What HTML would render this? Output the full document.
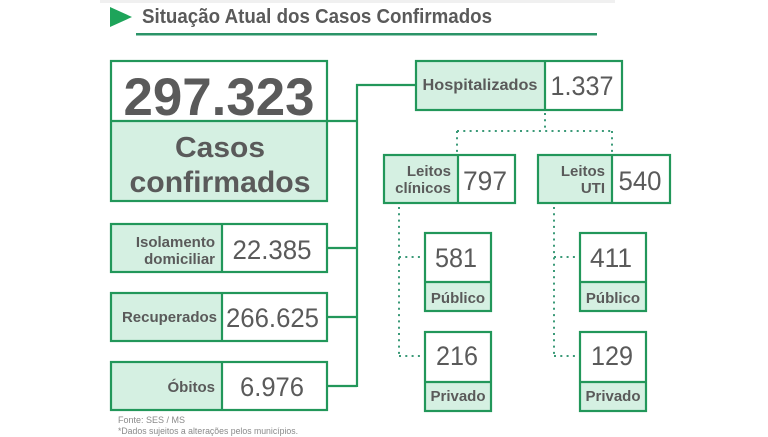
<!DOCTYPE html>
<html><head><meta charset="utf-8"><style>
html,body{margin:0;padding:0;background:#fff;}
svg{display:block;}
text{font-family:"Liberation Sans",Arial,sans-serif;fill:#5a5a5a;}
.b{font-weight:bold;}
</style></head><body>
<svg width="768" height="437" viewBox="0 0 768 437" xmlns="http://www.w3.org/2000/svg">
<rect x="0" y="0" width="768" height="437" fill="#ffffff"/>
<rect x="100" y="0" width="515" height="3" fill="#f0f0f0"/>
<!-- title -->
<polygon points="110,7 132,17 110,27" fill="#1ea45a"/>
<text class="b" x="142" y="23" font-size="20.5" textLength="350" lengthAdjust="spacingAndGlyphs">Situação Atual dos Casos Confirmados</text>
<rect x="136" y="33" width="461" height="2.5" fill="#2b9468"/>

<g fill="#d5f0e2" stroke="none">
<rect x="110" y="121" width="218" height="81"/>
<rect x="415" y="60" width="130" height="51"/>
<rect x="383" y="154" width="75" height="50"/>
<rect x="537" y="154" width="75" height="50"/>
<rect x="110" y="223" width="112" height="50"/>
<rect x="110" y="292" width="112" height="50"/>
<rect x="110" y="361" width="112" height="50"/>
<rect x="424" y="282" width="68" height="30"/>
<rect x="424" y="382" width="68" height="30"/>
<rect x="579" y="282" width="68" height="30"/>
<rect x="579" y="382" width="68" height="30"/>
</g>

<g fill="none" stroke="#22975a" stroke-width="2.2">
<rect x="111" y="61" width="216" height="140"/>
<line x1="111" y1="121" x2="327" y2="121"/>
<line x1="327" y1="121" x2="357" y2="121"/>
<line x1="357" y1="84" x2="357" y2="387"/>
<line x1="356" y1="85" x2="416" y2="85"/>
<line x1="327" y1="248" x2="357" y2="248"/>
<line x1="327" y1="317" x2="357" y2="317"/>
<line x1="327" y1="386" x2="357" y2="386"/>
<rect x="416" y="61" width="206" height="49"/>
<line x1="545" y1="61" x2="545" y2="110"/>
<rect x="384" y="155" width="131" height="48"/>
<line x1="458" y1="155" x2="458" y2="203"/>
<rect x="538" y="155" width="132" height="48"/>
<line x1="612" y1="155" x2="612" y2="203"/>
<rect x="111" y="224" width="216" height="48"/>
<line x1="222" y1="224" x2="222" y2="272"/>
<rect x="111" y="293" width="216" height="48"/>
<line x1="222" y1="293" x2="222" y2="341"/>
<rect x="111" y="362" width="216" height="48"/>
<line x1="222" y1="362" x2="222" y2="410"/>
<rect x="425" y="233" width="66" height="78"/>
<line x1="425" y1="282" x2="491" y2="282"/>
<rect x="425" y="332" width="66" height="79"/>
<line x1="425" y1="382" x2="491" y2="382"/>
<rect x="580" y="233" width="66" height="78"/>
<line x1="580" y1="282" x2="646" y2="282"/>
<rect x="580" y="332" width="66" height="79"/>
<line x1="580" y1="382" x2="646" y2="382"/>
</g>

<g fill="none" stroke="#3b9a78" stroke-width="2" stroke-dasharray="2 4.3">
<line x1="545" y1="113" x2="545" y2="131"/>
<line x1="457" y1="131" x2="613" y2="131"/>
<line x1="457" y1="131" x2="457" y2="153"/>
<line x1="612" y1="131" x2="612" y2="153"/>
<line x1="399" y1="207" x2="399" y2="357"/>
<line x1="399" y1="257" x2="422" y2="257"/>
<line x1="399" y1="356" x2="422" y2="356"/>
<line x1="554" y1="207" x2="554" y2="357"/>
<line x1="554" y1="257" x2="577" y2="257"/>
<line x1="554" y1="356" x2="577" y2="356"/>
</g>

<text class="b" x="219" y="115" font-size="53" text-anchor="middle" textLength="191" lengthAdjust="spacingAndGlyphs">297.323</text>
<text class="b" x="220" y="157" font-size="29" text-anchor="middle" textLength="90" lengthAdjust="spacingAndGlyphs">Casos</text>
<text class="b" x="220" y="192" font-size="30" text-anchor="middle" textLength="181" lengthAdjust="spacingAndGlyphs">confirmados</text>

<text class="b" x="480" y="90" font-size="16" text-anchor="middle" textLength="115" lengthAdjust="spacingAndGlyphs">Hospitalizados</text>
<text x="582" y="95" font-size="27" text-anchor="middle" textLength="63" lengthAdjust="spacingAndGlyphs">1.337</text>

<text class="b" x="451" y="176" font-size="15" text-anchor="end">Leitos</text>
<text class="b" x="451" y="193" font-size="15" text-anchor="end">clínicos</text>
<text x="485" y="190" font-size="27" text-anchor="middle" textLength="44" lengthAdjust="spacingAndGlyphs">797</text>
<text class="b" x="605" y="176" font-size="15" text-anchor="end">Leitos</text>
<text class="b" x="605" y="193" font-size="15" text-anchor="end">UTI</text>
<text x="640" y="190" font-size="27" text-anchor="middle" textLength="43" lengthAdjust="spacingAndGlyphs">540</text>

<text class="b" x="215" y="247" font-size="15" text-anchor="end">Isolamento</text>
<text class="b" x="215" y="264" font-size="15" text-anchor="end">domiciliar</text>
<text x="272" y="259" font-size="27" text-anchor="middle" textLength="79" lengthAdjust="spacingAndGlyphs">22.385</text>
<text class="b" x="217" y="322" font-size="15" text-anchor="end">Recuperados</text>
<text x="272.5" y="327" font-size="27" text-anchor="middle" textLength="93" lengthAdjust="spacingAndGlyphs">266.625</text>
<text class="b" x="215" y="392" font-size="15" text-anchor="end">Óbitos</text>
<text x="272" y="396" font-size="27" text-anchor="middle" textLength="64" lengthAdjust="spacingAndGlyphs">6.976</text>

<text x="456" y="267" font-size="27" text-anchor="middle" textLength="42" lengthAdjust="spacingAndGlyphs">581</text>
<text class="b" x="458" y="303" font-size="15" text-anchor="middle">Público</text>
<text x="457" y="365" font-size="27" text-anchor="middle" textLength="42" lengthAdjust="spacingAndGlyphs">216</text>
<text class="b" x="458" y="401" font-size="15" text-anchor="middle">Privado</text>

<text x="611" y="267" font-size="27" text-anchor="middle" textLength="42" lengthAdjust="spacingAndGlyphs">411</text>
<text class="b" x="613" y="303" font-size="15" text-anchor="middle">Público</text>
<text x="612" y="365" font-size="27" text-anchor="middle" textLength="42" lengthAdjust="spacingAndGlyphs">129</text>
<text class="b" x="613" y="401" font-size="15" text-anchor="middle">Privado</text>

<text x="118" y="423" font-size="9" style="fill:#8a8a8a">Fonte: SES / MS</text>
<text x="118" y="434" font-size="9" style="fill:#8a8a8a" textLength="180" lengthAdjust="spacingAndGlyphs">*Dados sujeitos a alterações pelos municípios.</text>
</svg>
</body></html>
